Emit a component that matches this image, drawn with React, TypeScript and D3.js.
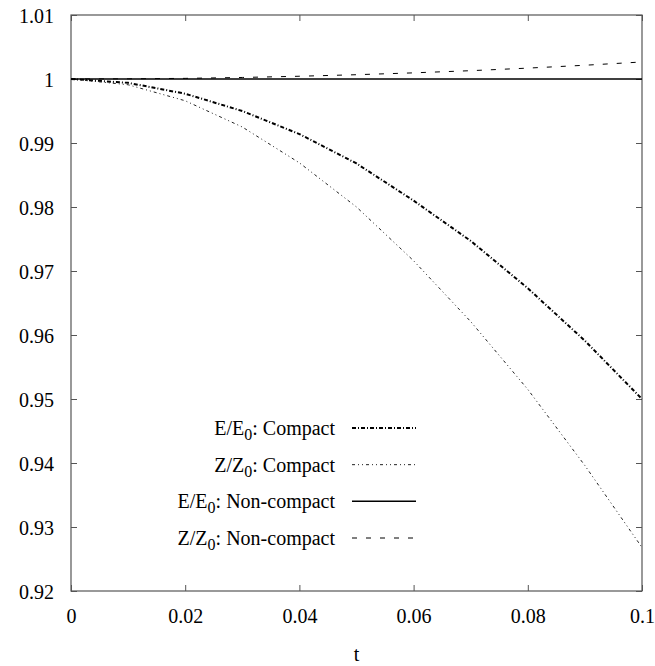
import React, {useEffect, useRef} from 'react';
import * as d3 from 'd3';

// time grid (t) and the four curves
const tValues = [0, 0.01, 0.02, 0.03, 0.04, 0.05, 0.06, 0.07, 0.08, 0.09, 0.1];
const energyCompact = [1.0, 0.9994, 0.9977, 0.995, 0.9914, 0.9868, 0.981, 0.9747, 0.9673, 0.9591, 0.95];
const zCompact = [1.0, 0.9991, 0.9966, 0.9925, 0.9869, 0.98, 0.9716, 0.9621, 0.9515, 0.9396, 0.9268];
const energyNonCompact = [1, 1, 1, 1, 1, 1, 1, 1, 1, 1, 1];
const zNonCompact = [1.0, 1.00003, 1.0001, 1.00024, 1.00043, 1.00067, 1.00096, 1.0013, 1.0017, 1.00215, 1.00266];

const xTicks = [0, 0.02, 0.04, 0.06, 0.08, 0.1];
const yTicks = [0.92, 0.93, 0.94, 0.95, 0.96, 0.97, 0.98, 0.99, 1, 1.01];

const seriesNames = ['E', 'Z', 'E', 'Z'];
const seriesKinds = ['Compact', 'Compact', 'Non-compact', 'Non-compact'];
const seriesValues = [energyCompact, zCompact, energyNonCompact, zNonCompact];

const lineStyles = [
    {width: 2, dash: '4,2,1,2', color: '#000'},
    {width: 1, dash: '3,3,1,3,1,3', color: '#222'},
    {width: 1.5, dash: null, color: '#000'},
    {width: 1, dash: '5,9', color: '#000'}
];

const W = 655;
const H = 666;
const margin = {left: 71, right: 13, top: 15, bottom: 75};
const font = "'Liberation Serif', 'DejaVu Serif', serif";

const App = () => {
    const ref = useRef<SVGSVGElement>(null);

    useEffect(() => {
        const svg = d3.select(ref.current);
        svg.selectAll('*').remove();

        const x = d3.scaleLinear().domain([0, 0.1]).range([margin.left, W - margin.right]);
        const y = d3.scaleLinear().domain([0.92, 1.01]).range([H - margin.bottom, margin.top]);

        const fmt = (d: number) => String(+d.toFixed(2));

        // axes, ticks inward and mirrored like gnuplot
        const axisLeft = d3.axisLeft(y).tickValues(yTicks).tickSize(-6).tickPadding(17).tickFormat(fmt as any);
        const axisRight = d3.axisRight(y).tickValues(yTicks).tickSize(-6).tickFormat(() => '');
        const axisBottom = d3.axisBottom(x).tickValues(xTicks).tickSize(-6).tickPadding(18).tickFormat(fmt as any);
        const axisTop = d3.axisTop(x).tickValues(xTicks).tickSize(-6).tickFormat(() => '');

        const gl = svg.append('g').attr('transform', `translate(${margin.left},0)`).call(axisLeft);
        svg.append('g').attr('transform', `translate(${W - margin.right},0)`).call(axisRight);
        const gb = svg.append('g').attr('transform', `translate(0,${H - margin.bottom})`).call(axisBottom);
        svg.append('g').attr('transform', `translate(0,${margin.top})`).call(axisTop);

        svg.selectAll('.domain').remove();
        svg.selectAll('g').attr('font-family', null).attr('font-size', null);
        svg.selectAll('.tick line').attr('stroke', '#555');
        svg.selectAll('.tick text')
            .attr('font-family', font)
            .attr('font-size', 20)
            .attr('fill', '#000');
        gl.selectAll('.tick text').attr('dy', '0.35em');
        gb.selectAll('.tick text').attr('dy', '0.72em');

        svg.append('rect')
            .attr('x', margin.left)
            .attr('y', margin.top)
            .attr('width', W - margin.left - margin.right)
            .attr('height', H - margin.top - margin.bottom)
            .attr('fill', 'none')
            .attr('stroke', '#555')
            .attr('stroke-width', 1.2);

        svg.append('text')
            .attr('x', (x(0) + x(0.1)) / 2)
            .attr('y', 661)
            .attr('text-anchor', 'middle')
            .attr('font-family', font)
            .attr('font-size', 20)
            .text('t');

        const line = d3.line<number>()
            .x((d, i) => x(tValues[i]))
            .y(d => y(d));

        seriesValues.forEach((vals, i) => {
            const s = lineStyles[i];
            svg.append('path')
                .datum(vals)
                .attr('d', line)
                .attr('fill', 'none')
                .attr('stroke', s.color)
                .attr('stroke-width', s.width)
                .attr('stroke-dasharray', s.dash);
        });

        // legend
        const legendY = d3.scaleLinear().domain([0, 3]).range([428, 538]);
        seriesNames.forEach((name, i) => {
            const s = lineStyles[i];
            const ly = legendY(i);
            const t = svg.append('text')
                .attr('x', 335)
                .attr('y', ly + 7)
                .attr('text-anchor', 'end')
                .attr('font-family', font)
                .attr('font-size', 20);
            t.append('tspan').text(`${name}/${name}`);
            t.append('tspan').attr('font-size', 16).attr('dy', 5).text('0');
            t.append('tspan').attr('dy', -5).text(`: ${seriesKinds[i]}`);
            svg.append('line')
                .attr('x1', 352)
                .attr('x2', 416)
                .attr('y1', ly)
                .attr('y2', ly)
                .attr('stroke', s.color)
                .attr('stroke-width', s.width)
                .attr('stroke-dasharray', s.dash);
        });
    }, []);

    return (
        <svg ref={ref} width={W} height={H}
             style={{position: 'absolute', left: 0, top: 0, background: '#fff'}}/>
    );
};

export default App;
